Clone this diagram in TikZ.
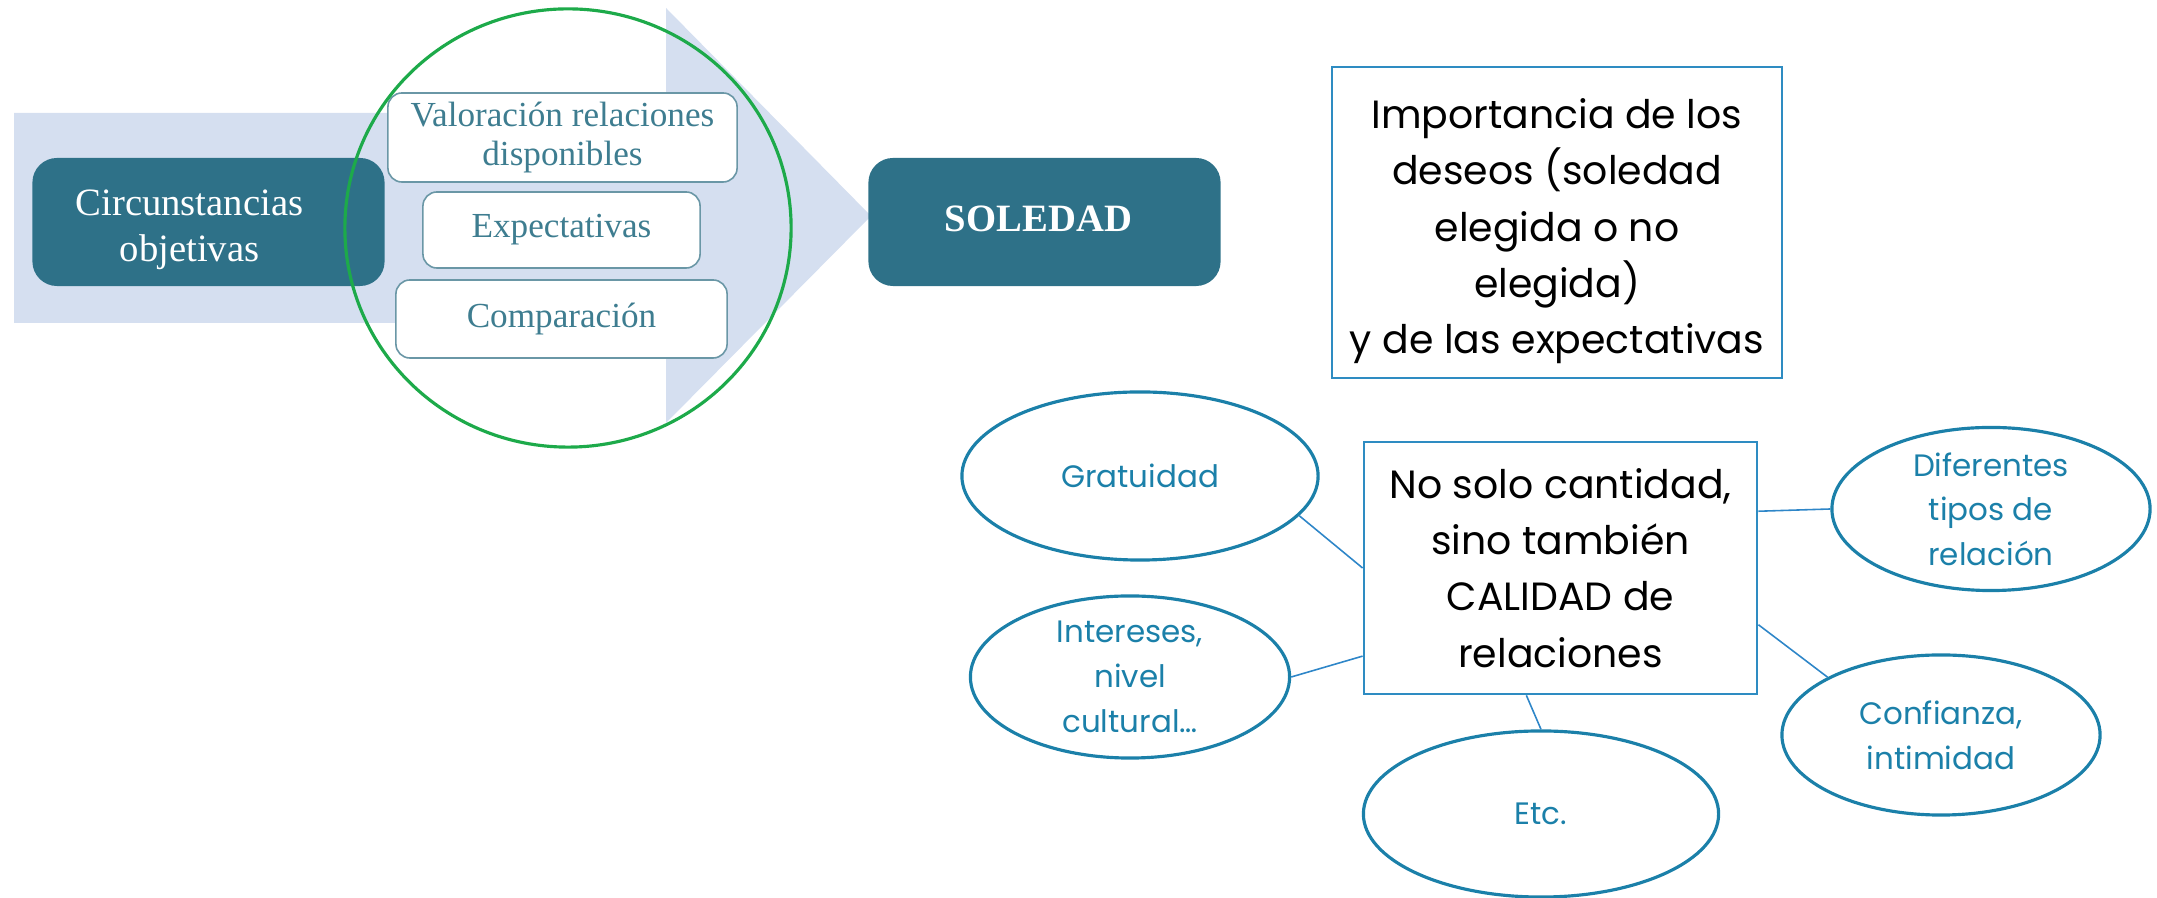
\documentclass[tikz,border=0pt]{standalone}
\usepackage{fontspec}
\setmainfont{Liberation Serif}
\newfontfamily\geo{Poppins}
\usetikzlibrary{shapes.geometric}
\definecolor{tealdark}{HTML}{2E7188}
\definecolor{arrowbg}{HTML}{D5DFF0}
\definecolor{smallborder}{HTML}{6A97A6}
\definecolor{smalltext}{HTML}{3E7D90}
\definecolor{ringgreen}{HTML}{1DAA4A}
\definecolor{ellblue}{HTML}{1B80A9}
\definecolor{boxblue}{HTML}{2E8CC2}
\definecolor{linkblue}{HTML}{2E86C8}
% text block drawn shifted by (#1,#2) inside its node, keeping the node's size
\newcommand\offsettext[3]{\raisebox{#2}[\height][\depth]{\kern#1\begin{tabular}{@{}c@{}}#3\end{tabular}\kern-#1}}
\tikzset{
  darkbox/.style={rectangle, rounded corners=7pt, fill=tealdark, text=white, align=center, inner sep=0pt,
    minimum width=3.52cm, minimum height=1.28cm, font=\fontsize{11pt}{13pt}\selectfont},
  smallbox/.style={rectangle, rounded corners=4pt, draw=smallborder, line width=0.45pt, fill=white,
    text=smalltext, align=center, inner sep=0pt, font=\fontsize{10pt}{11pt}\selectfont},
  ring/.style={ellipse, draw=ringgreen, line width=0.9pt, inner sep=0pt},
  bigbox/.style={rectangle, draw=boxblue, line width=0.75pt, fill=white, align=center, inner sep=0pt,
    font=\geo\fontsize{11.2pt}{16pt}\selectfont},
  bubble/.style={ellipse, draw=ellblue, line width=0.9pt, text=ellblue, align=center, inner sep=-14pt,
    font=\geo\fontsize{8.8pt}{12.7pt}\selectfont},
  link/.style={draw=linkblue, line width=0.45pt}
}
\begin{document}
\begin{tikzpicture}[x=0.01cm,y=-0.01cm]
\useasboundingbox (0,0) rectangle (2157,898);
% big background arrow
\fill[arrowbg] (14,113) -- (666,113) -- (666,8) -- (871,216) -- (666,423) -- (666,323) -- (14,323) -- cycle;
% left part
\node[darkbox] (circ) at (208.5,222) {\offsettext{-0.19cm}{-2pt}{Circunstancias\\objetivas}};
\node[darkbox, font=\fontsize{11pt}{13pt}\selectfont\bfseries] (sol) at (1044.5,222) {\offsettext{-0.06cm}{0pt}{SOLEDAD}};
\node[smallbox, minimum width=3.49cm, minimum height=0.89cm] (val) at (562.5,137.5) {Valoración relaciones\\disponibles};
\node[smallbox, minimum width=2.77cm, minimum height=0.76cm] (exp) at (561.5,230) {Expectativas};
\node[smallbox, minimum width=3.31cm, minimum height=0.78cm] (comp) at (561.5,319) {Comparación};
\node[ring, minimum width=4.46cm, minimum height=4.38cm] (ringnode) at (568,228) {};
% right part
\node[bigbox, minimum width=4.50cm, minimum height=3.11cm] (imp) at (1557,222.5)
  {\offsettext{0pt}{-2.1pt}{Importancia de los\\deseos (soledad\\elegida o no\\elegida)\\y de las expectativas}};
\node[bigbox, minimum width=3.93cm, minimum height=2.52cm] (cal) at (1560.5,568)
  {No solo cantidad,\\sino también\\CALIDAD de\\relaciones};
\node[bubble, minimum width=3.56cm, minimum height=1.68cm] (grat) at (1140,476) {Gratuidad};
\node[bubble, minimum width=3.19cm, minimum height=1.62cm] (int) at (1130,677) {Intereses,\\nivel\\cultural…};
\node[bubble, minimum width=3.55cm, minimum height=1.66cm] (etc) at (1541,814) {Etc.};
\node[bubble, minimum width=3.18cm, minimum height=1.63cm] (dif) at (1991,509) {Diferentes\\tipos de\\relación};
\node[bubble, minimum width=3.18cm, minimum height=1.60cm] (conf) at (1941,735) {Confianza,\\intimidad};
% connectors
\draw[link] (grat.-14.2) -- (cal.west);
\draw[link] (int.east) -- (cal.204.1);
\draw[link] (cal.16.7) -- (dif.west);
\draw[link] (cal.-16.7) -- (conf.153.4);
\draw[link] (cal.-105.7) -- (etc.north);
\end{tikzpicture}
\end{document}
